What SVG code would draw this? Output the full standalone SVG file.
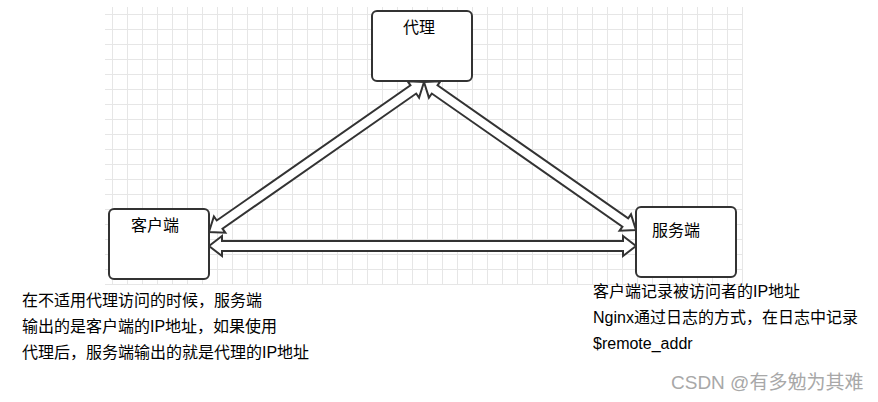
<svg xmlns="http://www.w3.org/2000/svg" width="878" height="402" viewBox="0 0 878 402">
<style>
.box{fill:#fff;stroke:#333;stroke-width:2}
.arr{fill:#fff;stroke:#333;stroke-width:2;stroke-linejoin:miter}
.t{font-family:"Liberation Sans","Noto Sans CJK SC",sans-serif;font-size:16px;fill:#000}
.wm{font-family:"Liberation Sans","Noto Sans CJK SC",sans-serif;font-size:19px;fill:#a8a8a8}
</style>
<defs>
<pattern id="grid" patternUnits="userSpaceOnUse" x="112" y="14" width="15" height="15">
<rect x="0" y="0" width="1" height="15" fill="#e6e6e6"/>
<rect x="0" y="0" width="15" height="1" fill="#e6e6e6"/>
</pattern>
</defs>
<rect width="878" height="402" fill="#fff"/>
<rect x="105" y="7" width="638" height="278" fill="url(#grid)"/>
<g id="connectors">
<path class="arr" transform="translate(424,82) rotate(145.1)" d="M0,0 L13,-10 L13,-5 L249.2,-5 L249.2,-10 L262.2,0 L249.2,10 L249.2,5 L13,5 L13,10 Z"/>
<path class="arr" transform="translate(424,82) rotate(34.92)" d="M0,0 L13,-10 L13,-5 L245.5,-5 L245.5,-10 L258.5,0 L245.5,10 L245.5,5 L13,5 L13,10 Z"/>
<path class="arr" transform="translate(209,246)" d="M0,0 L13,-10 L13,-5 L414,-5 L414,-10 L427,0 L414,10 L414,5 L13,5 L13,10 Z"/>
</g>
<g id="proxy">
<rect class="box" x="372" y="11" width="100" height="70" rx="5"/>
<text class="t" x="403" y="33">代理</text>
</g>
<g id="client">
<rect class="box" x="109" y="209" width="100" height="70" rx="5"/>
<text class="t" x="131" y="231">客户端</text>
</g>
<g id="server">
<rect class="box" x="636" y="207" width="100" height="70" rx="5"/>
<text class="t" x="652" y="236">服务端</text>
</g>
<g id="note-left">
<text class="t" x="22" y="306">在不适用代理访问的时候，服务端</text>
<text class="t" x="22" y="332">输出的是客户端的IP地址，如果使用</text>
<text class="t" x="22" y="358">代理后，服务端输出的就是代理的IP地址</text>
</g>
<g id="note-right">
<text class="t" x="593" y="297">客户端记录被访问者的IP地址</text>
<text class="t" x="593" y="323">Nginx通过日志的方式，在日志中记录</text>
<text class="t" x="593" y="349">$remote_addr</text>
</g>
<text class="wm" x="671" y="389">CSDN @有多勉为其难</text>
</svg>
